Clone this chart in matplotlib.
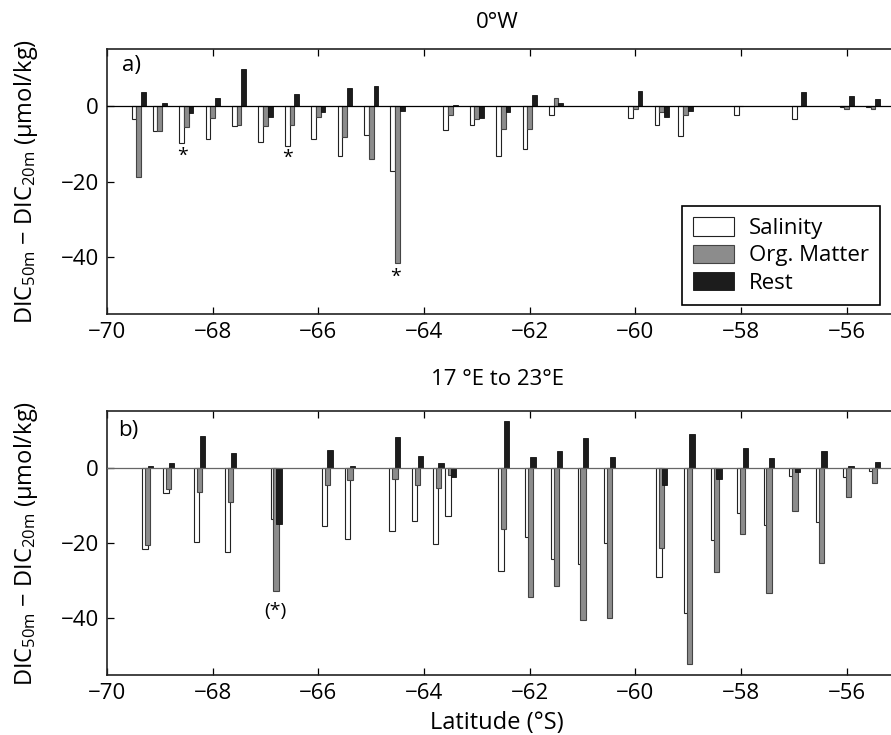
import numpy as np
import matplotlib
matplotlib.use("Agg")
import matplotlib.pyplot as plt

plt.rcParams['font.family'] = ['Open Sans', 'DejaVu Sans']
plt.rcParams['mathtext.default'] = 'regular'

# --- dati pannello a) 0°W ---
lat_a = [-69.4, -69.0, -68.5, -68.0, -67.5, -67.0, -66.5, -66.0, -65.5, -65.0, -64.5,
         -63.5, -63.0, -62.5, -62.0, -61.5, -60.0, -59.5, -59.05, -58.0, -56.9, -56.0, -55.5]
sal_a = [-3.5, -6.7, -9.7, -8.8, -5.4, -9.6, -10.5, -8.8, -13.1, -7.7, -17.1,
         -6.3, -4.9, -13.3, -11.3, -2.5, -3.1, -5.1, -7.8, -2.4, -3.3, -0.2, -0.2]
org_a = [-18.9, -6.5, -5.5, -3.1, -5.1, -5.2, -5.0, -2.8, -8.3, -13.9, -41.5,
         -2.4, -3.4, -6.0, -6.1, 2.0, -0.7, -1.7, -2.4, -0.1, 0.0, -0.8, -0.8]
rest_a = [3.7, 0.8, -1.9, 2.2, 9.9, -2.9, 3.1, -1.6, 4.9, 5.3, -1.4,
          0.35, -3.2, -1.6, 3.0, 0.8, 4.1, -3.0, -1.3, 0.0, 3.6, 2.6, 1.8]
# asterischi (lat, valore, testo)
notes_a = [(-68.57, -13.1, '*'), (-66.59, -13.6, '*'), (-64.54, -45.3, '*')]

# --- dati pannello b) 17°E - 23°E ---
lat_b = [-69.23, -68.83, -68.25, -67.66, -66.80, -65.83, -65.40, -64.55, -64.12, -63.73,
         -63.49, -62.49, -61.99, -61.49, -60.99, -60.49, -59.50, -58.98, -58.47, -57.97,
         -57.47, -56.98, -56.48, -55.97, -55.47]
sal_b = [-21.7, -6.8, -19.8, -22.4, -13.5, -15.4, -19.0, -16.7, -14.1, -20.2,
         -12.9, -27.4, -18.5, -24.2, -25.6, -19.9, -29.0, -38.5, -19.2, -12.1,
         -15.2, -2.3, -14.3, -2.5, -0.8]
org_b = [-20.5, -5.8, -6.5, -9.1, -32.6, -4.5, -3.3, -3.1, -4.6, -5.3,
         -1.9, -16.2, -34.2, -31.5, -40.5, -39.9, -21.2, -52.2, -27.8, -17.6,
         -33.3, -11.5, -25.4, -7.8, -4.2]
rest_b = [0.35, 1.2, 8.3, 3.9, -15.0, 4.6, 0.5, 8.0, 3.0, 1.1,
          -2.4, 12.4, 2.7, 4.3, 7.8, 2.7, -4.5, 9.0, -3.1, 5.1,
          2.6, -1.3, 4.4, 0.4, 1.5]
notes_b = [(-66.82, -38.1, '(*)')]

labels = ['Salinity', 'Org. Matter', 'Rest']
ylab = 'DIC$_{50m}$ − DIC$_{20m}$ (μmol/kg)'


def draw_panel(ax, lat, sal, org, rest, width, offset, zero_color):
    lat = np.array(lat)
    ax.bar(lat - offset, sal, width, color='white', edgecolor='#222222', linewidth=0.8,
           label=labels[0], zorder=2)
    ax.bar(lat, org, width, color='#8c8c8c', edgecolor='#444444', linewidth=0.8,
           label=labels[1], zorder=3)
    ax.bar(lat + offset, rest, width, color='#1c1c1c', edgecolor='#111111', linewidth=0.6,
           label=labels[2], zorder=4)
    ax.axhline(0, color=zero_color, linewidth=0.9, zorder=5)
    ax.set_xlim(-70, -55)
    ax.set_ylim(-55, 15)
    ax.set_xticks(np.arange(-70, -55, 2))
    ax.set_yticks([-40, -20, 0])
    ax.tick_params(direction='in', length=5, width=0.9, top=True, right=True,
                   labelsize=16, pad=6)
    for s in ax.spines.values():
        s.set_linewidth(1.2)
        s.set_color('#222222')
    ax.set_ylabel(ylab, fontsize=17)
    ax.yaxis.label.set_va('center')
    ax.yaxis.set_label_coords(-0.102, 0.5)


fig = plt.figure(figsize=(8.91, 7.35), dpi=100)
ax1 = fig.add_axes([0.1201, 0.5728, 0.8894, 0.3601])
ax2 = fig.add_axes([0.1201, 0.0816, 0.8894, 0.3592])

draw_panel(ax1, lat_a, sal_a, org_a, rest_a, 0.09, 0.09, 'black')
draw_panel(ax2, lat_b, sal_b, org_b, rest_b, 0.1, 0.053, '#666666')

for x, y, t in notes_a:
    ax1.text(x, y, t, ha='center', va='center', fontsize=14)
for x, y, t in notes_b:
    ax2.text(x, y, t, ha='center', va='center', fontsize=14)

ax1.text(0.019, 0.937, 'a)', transform=ax1.transAxes, fontsize=16, va='center', ha='left')
ax2.text(0.014, 0.928, 'b)', transform=ax2.transAxes, fontsize=16, va='center', ha='left')

fig.text(0.558, 0.970, '0°W', ha='center', va='center', fontsize=16)
fig.text(0.558, 0.483, '17 °E to 23°E', ha='center', va='center', fontsize=16)

ax2.set_xlabel('Latitude (°S)', fontsize=17)
ax2.xaxis.set_label_coords(0.492, -0.135)

leg = ax1.legend(loc='lower left', bbox_to_anchor=(0.7256, 0.034), fontsize=16,
                 frameon=True, fancybox=False, edgecolor='black', framealpha=1,
                 handlelength=1.85, handleheight=0.9, handletextpad=0.65,
                 labelspacing=0.25, borderpad=0.5, borderaxespad=0)
leg.get_frame().set_linewidth(1.2)

fig.savefig('out.png', dpi=100)
